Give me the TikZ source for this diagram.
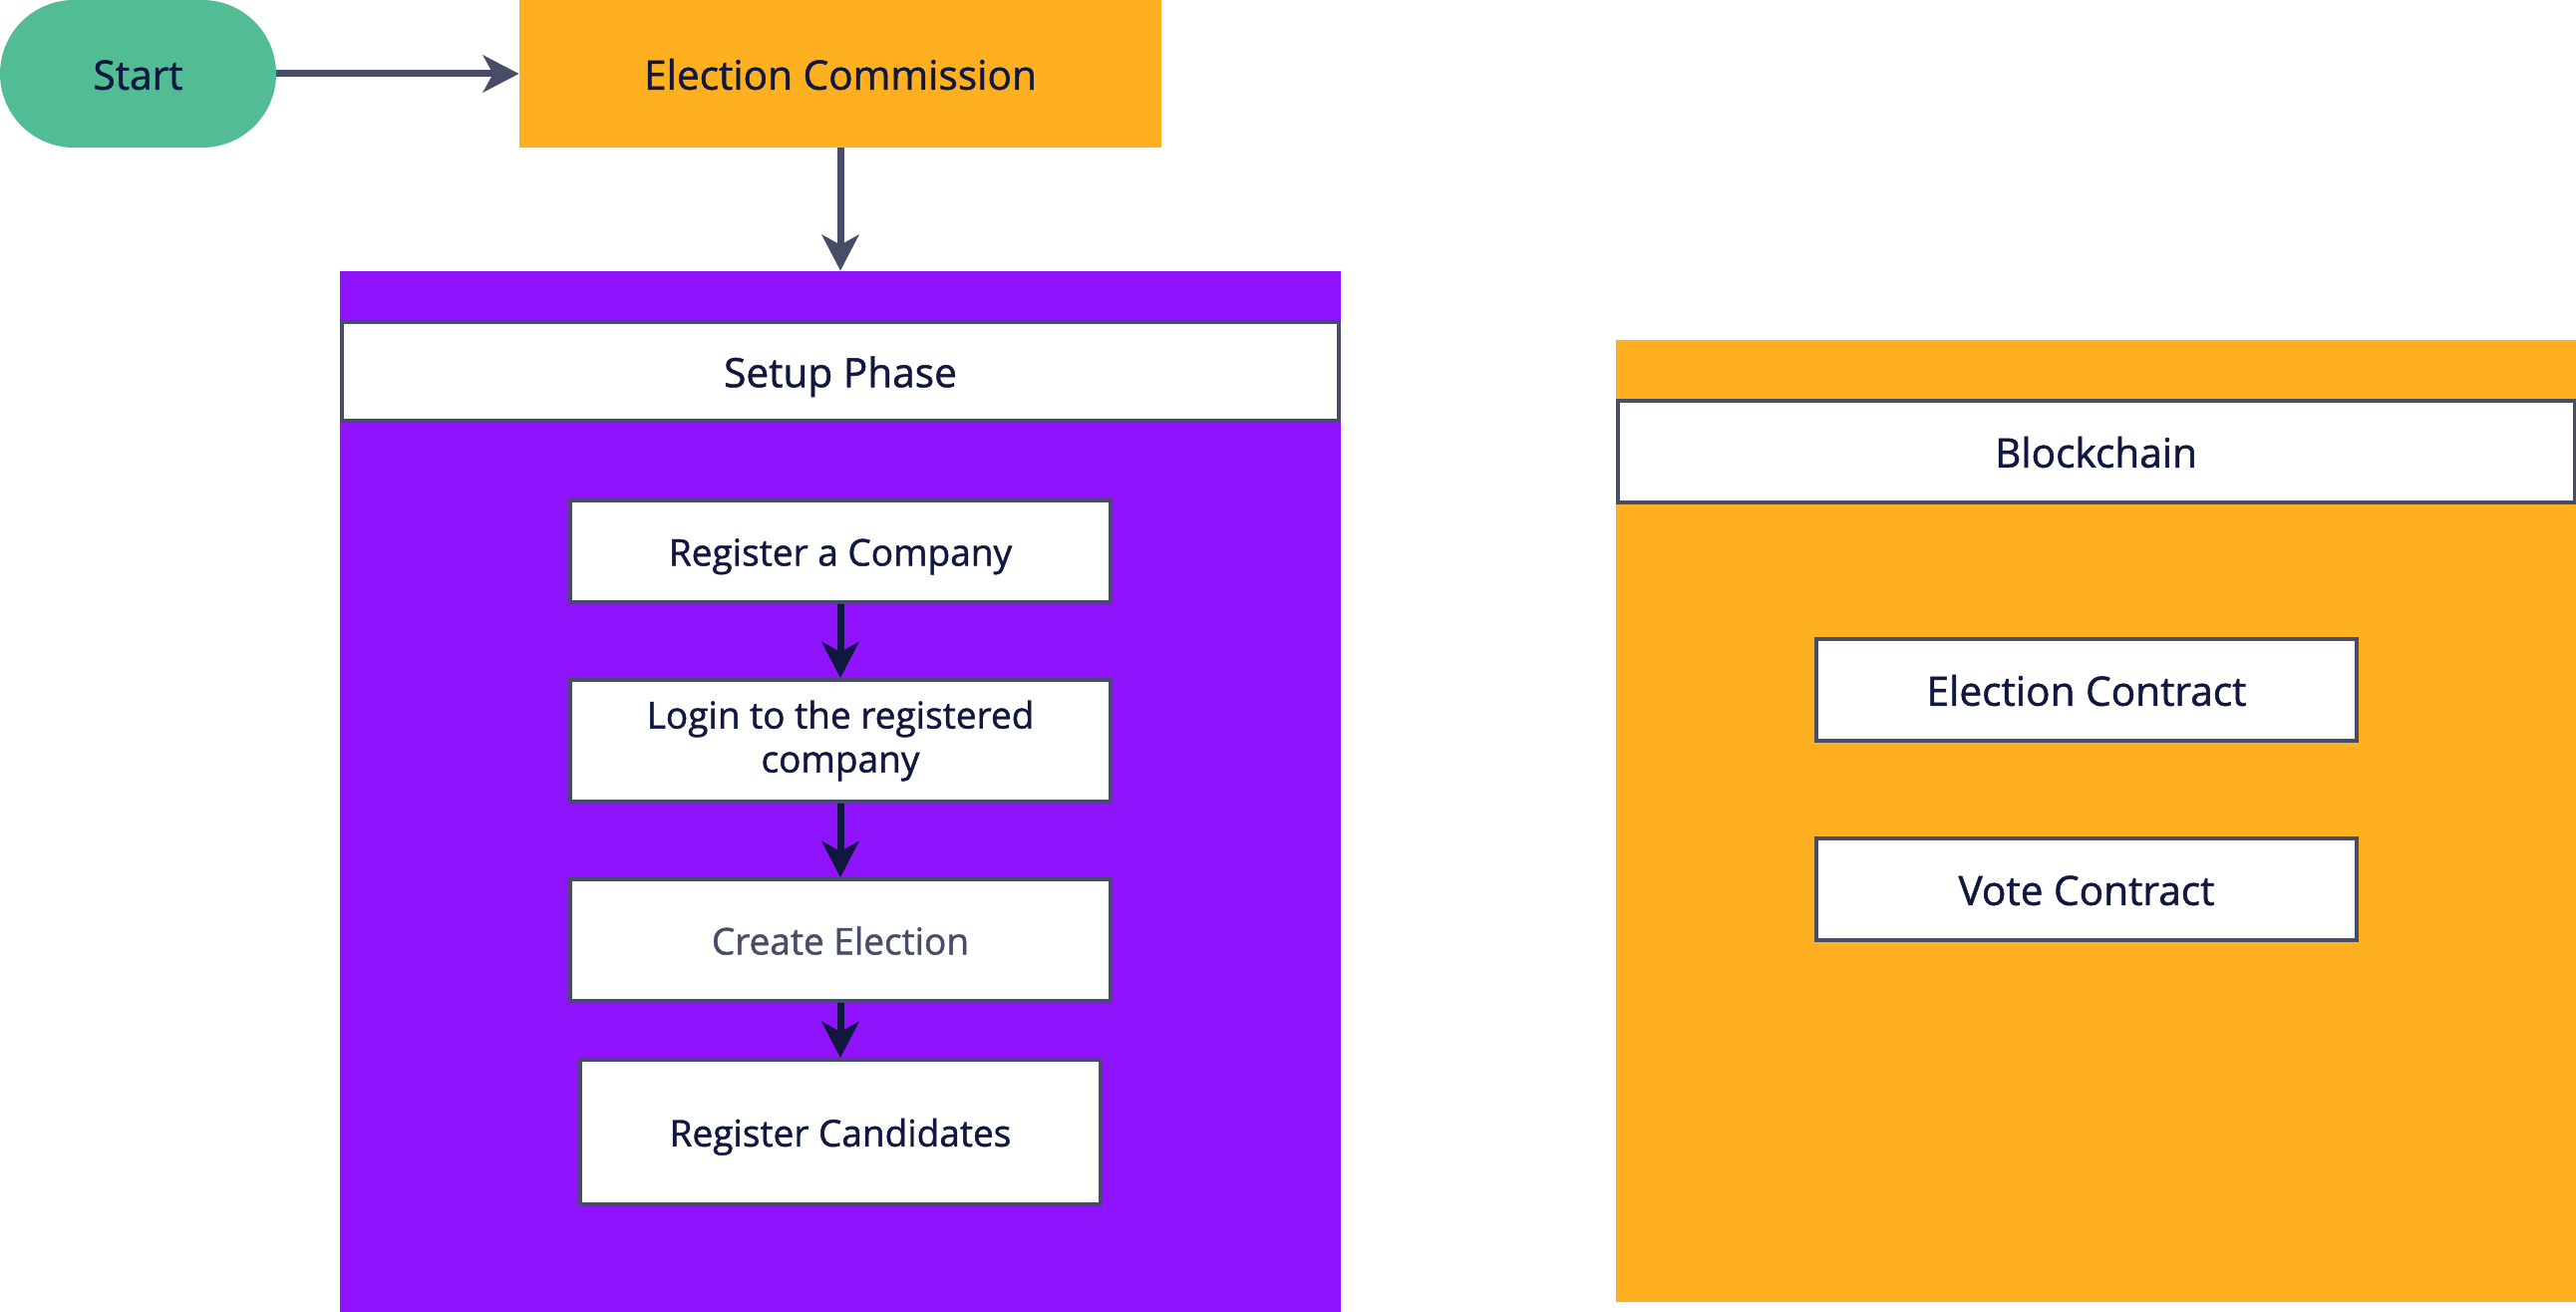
\documentclass[tikz,border=0pt]{standalone}
\usepackage{fontspec}
\setmainfont{Open Sans}[FakeBold=1.2]
\usepackage{tikz}
\usetikzlibrary{calc}
\usetikzlibrary{positioning}
\usetikzlibrary{arrows.meta}
\definecolor{inktext}{HTML}{101840}
\definecolor{inkmuted}{HTML}{474D66}
\definecolor{startgreen}{HTML}{52BD94}
\definecolor{ecorange}{HTML}{FFB020}
\definecolor{phasepurple}{HTML}{9013FE}
\tikzstyle{startnode} = [fill=startgreen, rounded corners=37pt, minimum width=138.5pt, minimum height=74pt, inner sep=0pt, text height=15.8pt, text depth=0pt, text=inktext, font=\fontsize{20.3}{24}\selectfont]
\tikzstyle{ecnode} = [fill=ecorange, minimum width=322pt, minimum height=74pt, inner sep=0pt, text height=15.8pt, text depth=0pt, text=inktext, font=\fontsize{20.3}{24}\selectfont]
\tikzstyle{groupbox} = [inner sep=0pt]
\tikzstyle{headerbox} = [draw=inkmuted, line width=2pt, fill=white, minimum height=49.5pt, inner sep=0pt, text height=15.8pt, text depth=0pt, text=inktext, font=\fontsize{20.3}{24}\selectfont]
\tikzstyle{stepbox} = [draw=inkmuted, line width=2pt, fill=white, minimum width=271pt, minimum height=51pt, inner sep=0pt, text height=14.4pt, text depth=0pt, align=center, text=inktext, font=\fontsize{18.5}{22}\selectfont]
\tikzstyle{contractbox} = [stepbox, text height=15.8pt, font=\fontsize{20.3}{24}\selectfont]
\tikzstyle{flowarrow} = [line width=3.5pt, >={Stealth[length=18pt,width=18.5pt,inset=5pt]}, ->]

\begin{document}
\begin{tikzpicture}[x=1pt,y=1pt]
    \useasboundingbox (0,0) rectangle (1292,-658);

    \node[startnode] (start) at (69.25,-37) {Start};
    \node[ecnode] (ec) at ($(start)+(352.25,0)$) {Election Commission};
    \draw[flowarrow, color=inkmuted] (start) -- (ec);

    \node[groupbox, fill=phasepurple, minimum width=502pt, minimum height=522pt] (setup) at ($(ec)+(0,-360)$) {};
    \draw[flowarrow, color=inkmuted] (ec) -- (setup);
    \node[headerbox, minimum width=500pt] (setup_header) at ($(setup)+(0,210.75)$) {Setup Phase};

    \node[stepbox] (setup_company) at ($(setup_header)+(0,-90.25)$) {Register a Company};
    \node[stepbox, minimum height=61pt, text height=, text depth=] (setup_login) at ($(setup_company)+(0,-95)$) {Login to the registered\\company};
    \node[stepbox, minimum height=61pt, text=inkmuted] (setup_create) at ($(setup_login)+(0,-100)$) {Create Election};
    \node[stepbox, minimum width=261pt, minimum height=72.5pt] (setup_candidates) at ($(setup_create)+(0,-96.25)$) {Register Candidates};
    \draw[flowarrow, color=inktext] (setup_company) -- (setup_login);
    \draw[flowarrow, color=inktext] (setup_login) -- (setup_create);
    \draw[flowarrow, color=inktext] (setup_create) -- (setup_candidates);

    \node[groupbox, fill=ecorange, minimum width=481.5pt, minimum height=482.5pt] (chain) at ($(setup)+(629.75,-14.75)$) {};
    \node[headerbox, minimum width=480pt, minimum height=51pt] (chain_header) at ($(chain)+(0,185.25)$) {Blockchain};
    \node[contractbox] (chain_election) at ($(chain_header)+(-4.75,-119.5)$) {Election Contract};
    \node[contractbox] (chain_vote) at ($(chain_election)+(0,-100)$) {Vote Contract};
\end{tikzpicture}
\end{document}
